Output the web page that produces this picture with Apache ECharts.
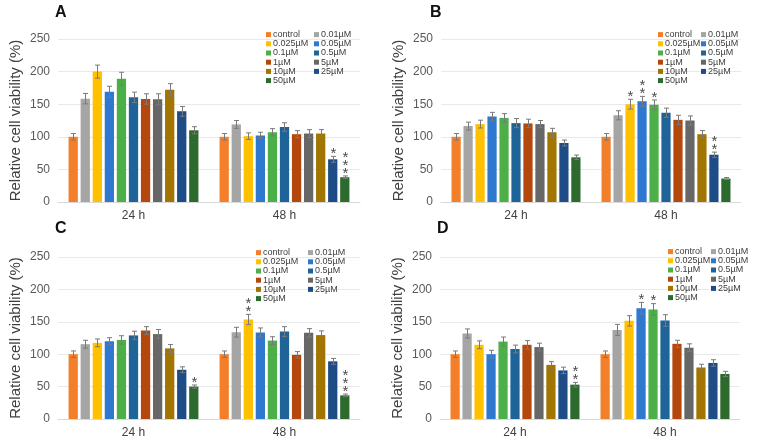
<!DOCTYPE html>
<html><head><meta charset="utf-8">
<script src="https://cdn.jsdelivr.net/npm/echarts@6/dist/echarts.min.js"></script>
<style>html,body{margin:0;padding:0;background:#fff}#c{width:757px;height:445px}</style>
</head><body><div id="c"></div>
<script>
const categories = ['24 h', '48 h'];
const seriesNames = ['control','0.01µM','0.025µM','0.05µM','0.1µM','0.5µM','1µM','5µM','10µM','25µM','50µM'];
const colors = ['#F37F2A','#A5A5A5','#FFC000','#2E78CF','#4CAF48','#1E6498','#B4470C','#676767','#A27500','#1D4C86','#2D6A2E'];
const yTicks = [0, 50, 100, 150, 200, 250];

const valuesA24 = [100,158.5,200,169,189,160.5,158,157.5,172,139,110];
const valuesA48 = [100,119,101,102,107,115,104,105,105,65.5,38];
const errA24 = [5,8,10,8.5,10,8,8,8.5,9.5,7.5,5.5];
const errA48 = [5,6,5,5,5.5,6.5,5.5,6,6,4.5,2];
const starsA24 = [0,0,0,0,0,0,0,0,0,0,0];
const starsA48 = [0,0,0,0,0,0,0,0,0,1,3];

const valuesB24 = [100,116.5,119.5,131,129,121,120.5,119.5,107,90.5,68.5];
const valuesB48 = [100,133,150,154.5,149,137,126,125,104,72.5,36];
const errB24 = [5,6,6,6.5,6.5,7,6.5,5.5,6,4.5,3.5];
const errB48 = [5,7,7.5,7.5,7.5,7,7,7,5.5,4,1.5];
const starsB24 = [0,0,0,0,0,0,0,0,0,0,0];
const starsB48 = [0,0,1,2,1,0,0,0,0,2,0];

const valuesC24 = [100,115.5,117.5,120,122,129,136.5,131,109,76,50];
const valuesC48 = [100,134,153.5,133.5,121,135,99,133,129.5,89,36.5];
const errC24 = [5,6,6,5.5,6.5,6.5,6,7,6,4.5,2.5];
const errC48 = [5,7.5,8,7,6,7.5,5,6.5,6.5,4.5,2];
const starsC24 = [0,0,0,0,0,0,0,0,0,0,1];
const starsC48 = [0,0,2,0,0,0,0,0,0,0,3];

const valuesD24 = [100,132,114.5,100,119.5,108,114.5,111,83.5,75,53];
const valuesD48 = [100,137.5,151.5,171,169,152,116,110,79.5,86.5,69.5];
const errD24 = [5,7,6,6,7,6,6.5,6,5,5,3.5];
const errD48 = [5,8.5,8,9,9,9,5.5,6,5,5,4];
const starsD24 = [0,0,0,0,0,0,0,0,0,0,2];
const starsD48 = [0,0,0,1,1,0,0,0,0,0,0];

const panelLetters = ['A','B','C','D'];
const panels = [
  {v24: valuesA24, v48: valuesA48, e24: errA24, e48: errA48, s24: starsA24, s48: starsA48},
  {v24: valuesB24, v48: valuesB48, e24: errB24, e48: errB48, s24: starsB24, s48: starsB48},
  {v24: valuesC24, v48: valuesC48, e24: errC24, e48: errC48, s24: starsC24, s48: starsC48},
  {v24: valuesD24, v48: valuesD48, e24: errD24, e48: errD48, s24: starsD24, s48: starsD48}
];

const FONT = "Arial, 'Liberation Sans', sans-serif";
const CAT_GAP = 0.14, BAR_GAP = 0.30;
const grids = [
  {left: 58, top: 39, width: 302, height: 163},
  {left: 441, top: 39, width: 300, height: 163},
  {left: 58, top: 257, width: 302, height: 162},
  {left: 440, top: 257, width: 300, height: 162}
];
const titlePos = [[55, 5], [430, 5], [55, 221], [437, 221]];
const legendPos = [[266, 314, 30], [658, 701, 30], [256, 308, 248], [668, 711, 247]];

function renderErr(params, api) {
  const cat = api.value(0), idx = api.value(1), val = api.value(2), err = api.value(3), stars = api.value(4);
  const n = seriesNames.length;
  const band = api.size([1, 0])[0];
  const usable = band * (1 - CAT_GAP);
  const bw = usable / (n + (n - 1) * BAR_GAP);
  const c = api.coord([cat, 0])[0];
  const x = Math.round(c - usable / 2 + idx * bw * (1 + BAR_GAP) + bw / 2) + 0.5;
  const yT = api.coord([cat, val + err])[1];
  const yB = api.coord([cat, val - err])[1];
  const cap = 2.5;
  const st = {stroke: '#7a7a7a', lineWidth: 1};
  const children = [
    {type: 'line', shape: {x1: x, y1: yT, x2: x, y2: yB}, style: st},
    {type: 'line', shape: {x1: x - cap, y1: yT, x2: x + cap, y2: yT}, style: st},
    {type: 'line', shape: {x1: x - cap, y1: yB, x2: x + cap, y2: yB}, style: st}
  ];
  if (stars > 0) {
    const lines = [];
    for (let k = 0; k < stars; k++) lines.push('*');
    children.push({type: 'text', x: x, y: yT + 1.5, style: {
      text: lines.join('\n'), fill: '#4a4a4a', font: "15px " + FONT, lineHeight: 7.8,
      align: 'center', verticalAlign: 'bottom'}});
  }
  return {type: 'group', children: children};
}

const option = {
  animation: false,
  backgroundColor: '#fff',
  title: panelLetters.map((t, i) => ({text: t, left: titlePos[i][0], top: titlePos[i][1], padding: 0,
    textStyle: {fontSize: 16, fontWeight: 'bold', color: '#111', fontFamily: FONT}})),
  legend: [],
  grid: grids,
  xAxis: grids.map((g, i) => ({type: 'category', gridIndex: i, data: categories,
    axisLine: {lineStyle: {color: '#d9d9d9'}}, axisTick: {show: false},
    axisLabel: {fontSize: 12, color: '#404040', margin: 8, fontFamily: FONT}})),
  yAxis: grids.map((g, i) => ({type: 'value', gridIndex: i, min: yTicks[0], max: yTicks[yTicks.length - 1], interval: 50,
    name: 'Relative cell viability (%)', nameLocation: 'middle', nameGap: 35,
    nameTextStyle: {fontSize: 15, color: '#404040', fontFamily: FONT},
    axisLine: {show: false}, axisTick: {show: false},
    splitLine: {lineStyle: {color: '#e9e9e9'}},
    axisLabel: {fontSize: 12, color: '#595959', margin: 8, fontFamily: FONT}})),
  series: []
};

legendPos.forEach((lp, p) => {
  const leftItems = seriesNames.filter((s, i) => i % 2 === 0);
  const rightItems = seriesNames.filter((s, i) => i % 2 === 1);
  [[leftItems, lp[0]], [rightItems, lp[1]]].forEach(([items, lx]) => {
    option.legend.push({data: items, orient: 'vertical', left: lx, top: lp[2], padding: 0,
      itemWidth: 5, itemHeight: 5, itemGap: 0, icon: 'rect', selectedMode: false,
      textStyle: {fontSize: 9, lineHeight: 9.2, color: '#404040', fontFamily: FONT, padding: [0, 0, 0, -3]}});
  });
});

panels.forEach((pd, p) => {
  seriesNames.forEach((name, i) => {
    option.series.push({type: 'bar', name: name, xAxisIndex: p, yAxisIndex: p,
      data: [pd.v24[i], pd.v48[i]], itemStyle: {color: colors[i]},
      barGap: (BAR_GAP * 100) + '%', barCategoryGap: (CAT_GAP * 100) + '%'});
  });
  const errData = [];
  seriesNames.forEach((name, i) => {
    errData.push([0, i, pd.v24[i], pd.e24[i], pd.s24[i]]);
    errData.push([1, i, pd.v48[i], pd.e48[i], pd.s48[i]]);
  });
  option.series.push({type: 'custom', name: 'err' + p, xAxisIndex: p, yAxisIndex: p, z: 5,
    renderItem: renderErr, data: errData, encode: {x: 0, y: 2}, silent: true});
});

const chart = echarts.init(document.getElementById('c'), null, {renderer: 'canvas'});
chart.setOption(option);
</script></body></html>
